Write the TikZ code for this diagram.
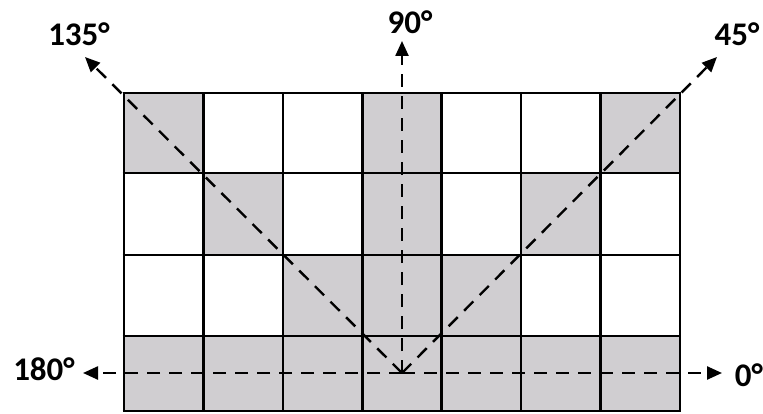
\documentclass[tikz,border=0pt]{standalone}
\usepackage{fontspec}
\setmainfont{Carlito}
\usetikzlibrary{arrows.meta}
\definecolor{cellgray}{RGB}{208,206,209}
\tikzset{
  gridline/.style={line width=2.6pt},
  shaded/.style={fill=cellgray},
  dirline/.style={line width=2.4pt, dash pattern=on 13pt off 9pt, -{Triangle[length=15pt,width=13pt]}},
  anglelabel/.style={inner sep=0pt, font=\fontsize{33}{36}\selectfont\bfseries},
}
\begin{document}
\begin{tikzpicture}[x=1pt,y=-1pt]
\useasboundingbox (0,0) rectangle (763,414);
% column and row boundaries
\def\xa{124}\def\xb{203.4}\def\xc{282.9}\def\xd{362.3}\def\xe{441.7}\def\xf{521.1}\def\xg{600.6}\def\xh{680}
\def\ya{93}\def\yb{173}\def\yc{255}\def\yd{336}\def\ye{411}
% shaded cells
\fill[shaded] (\xa,\ya) rectangle (\xb,\yb);
\fill[shaded] (\xd,\ya) rectangle (\xe,\yb);
\fill[shaded] (\xg,\ya) rectangle (\xh,\yb);
\fill[shaded] (\xb,\yb) rectangle (\xc,\yc);
\fill[shaded] (\xd,\yb) rectangle (\xe,\yc);
\fill[shaded] (\xf,\yb) rectangle (\xg,\yc);
\fill[shaded] (\xc,\yc) rectangle (\xf,\yd);
\fill[shaded] (\xa,\yd) rectangle (\xh,\ye);
% grid
\foreach \x in {\xa,\xb,\xc,\xd,\xe,\xf,\xg,\xh}
  \draw[gridline] (\x,\ya) -- (\x,\ye);
\foreach \y in {\ya,\yb,\yc,\yd,\ye}
  \draw[gridline] (\xa-1.3,\y) -- (\xh+1.3,\y);
% direction lines
\coordinate (o) at (402,373);
\coordinate (t0) at (722,373);
\coordinate (t45) at (717,57);
\coordinate (t90) at (402,41);
\coordinate (t135) at (85,57);
\coordinate (t180) at (83,373);
\draw[dirline] (o) -- (t0);
\draw[dirline] (o) -- (t45);
\draw[dirline] (o) -- (t90);
\draw[dirline] (o) -- (t135);
\draw[dirline] (o) -- (t180);
% labels
\node[anglelabel] (l0) at (749,375) {0°};
\node[anglelabel] (l45) at (737,34) {45°};
\node[anglelabel] (l90) at (410,22) {90°};
\node[anglelabel] (l135) at (79,34) {135°};
\node[anglelabel] (l180) at (44,369) {180°};
\end{tikzpicture}
\end{document}
